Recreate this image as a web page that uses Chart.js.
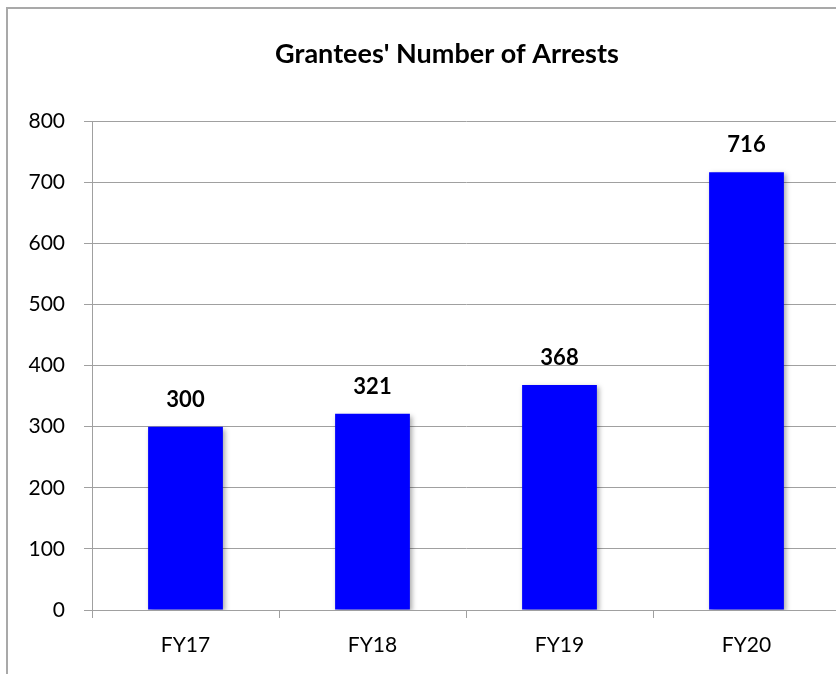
<!DOCTYPE html>
<html>
<head>
<meta charset="utf-8">
<script src="https://cdn.jsdelivr.net/npm/chart.js@4.4.1/dist/chart.umd.min.js"></script>
<style>
  html, body { margin: 0; padding: 0; overflow: hidden; background: #fff; width: 836px; height: 674px; }
  #frame { position: absolute; left: 6px; top: 7px; width: 880px; height: 700px; border: 2px solid #a9a9a9; }
  #chart { display: block; }
</style>
</head>
<body>
<div id="frame"><canvas id="chart" width="880" height="665"></canvas></div>
<script>
const categories = ['FY17', 'FY18', 'FY19', 'FY20'];
const arrests = [300, 321, 368, 716];
const yTicks = [0, 100, 200, 300, 400, 500, 600, 700, 800];
const chartTitle = "Grantees' Number of Arrests";

const FONT = 'Lato, "Open Sans", sans-serif';

// title + value labels + bar shadow, drawn the way the excel chart does
const extras = {
	id: 'extras',
	beforeDatasetDraw(chart) {
		let ctx = chart.ctx;
		ctx.save();
		ctx.shadowColor = 'rgba(0,0,0,0.35)';
		ctx.shadowBlur = 5;
		ctx.shadowOffsetX = 2;
		ctx.shadowOffsetY = 2;
	},
	afterDatasetDraw(chart) {
		chart.ctx.restore();
	},
	afterDraw(chart) {
		let ctx = chart.ctx;
		ctx.save();
		ctx.fillStyle = '#000';
		ctx.textAlign = 'center';
		ctx.textBaseline = 'middle';
		ctx.font = 'bold 27px ' + FONT;
		ctx.fillText(chartTitle, 439, 45);
		ctx.font = 'bold 22px ' + FONT;
		let meta = chart.getDatasetMeta(0);
		meta.data.forEach(function (bar, i) {
			ctx.fillText(String(arrests[i]), bar.x, bar.y - 27);
		});
		ctx.restore();
	}
};

new Chart(document.getElementById('chart'), {
	type: 'bar',
	data: {
		labels: categories,
		datasets: [{
			data: arrests,
			backgroundColor: '#0000ff',
			borderWidth: 0,
			categoryPercentage: 0.4,
			barPercentage: 1.0
		}]
	},
	options: {
		responsive: false,
		animation: false,
		layout: { padding: { top: 112, right: 48, left: 0, bottom: 0 } },
		plugins: {
			legend: { display: false },
			tooltip: { enabled: false },
			title: { display: false }
		},
		scales: {
			x: {
				offset: true,
				grid: { offset: true, drawOnChartArea: false, color: '#a0a0a0', tickLength: 8 },
				border: { color: '#a0a0a0', width: 1 },
				ticks: { color: '#000', font: { family: FONT, size: 21 }, padding: 15 },
				afterFit(scale) { scale.height = 64; }
			},
			y: {
				min: 0,
				max: 800,
				afterBuildTicks(scale) { scale.ticks = yTicks.map(v => ({ value: v })); },
				grid: { color: '#a0a0a0', tickLength: 8 },
				border: { color: '#a0a0a0', width: 1 },
				ticks: { color: '#000', font: { family: FONT, size: 21 }, padding: 19 },
				afterFit(scale) { scale.width = 84; }
			}
		}
	},
	plugins: [extras]
});
</script>
</body>
</html>
